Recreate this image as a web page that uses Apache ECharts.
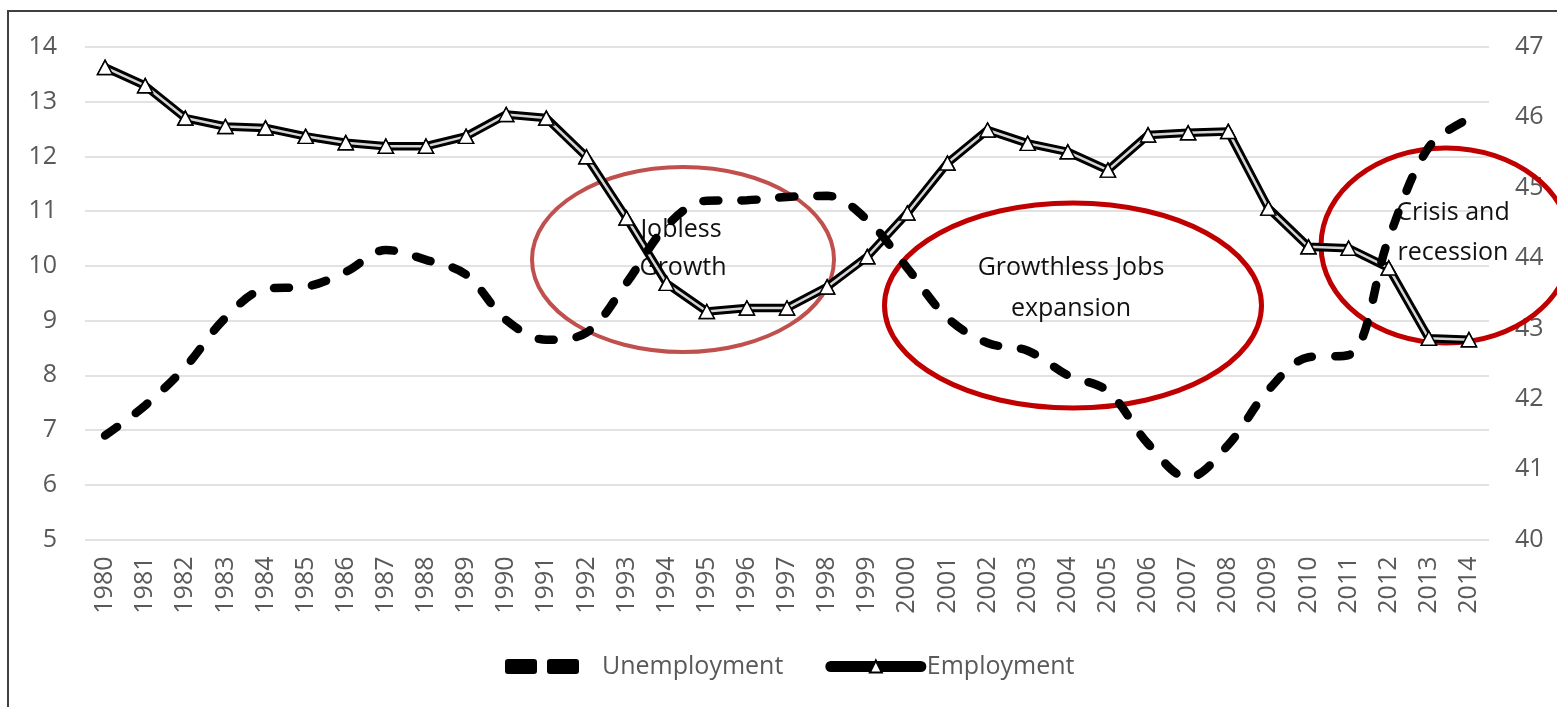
<!DOCTYPE html>
<html>
<head>
<meta charset="utf-8">
<script src="https://cdn.jsdelivr.net/npm/echarts@6/dist/echarts.min.js"></script>
<style>
html,body{margin:0;padding:0;background:#fff;}
#chart{width:1557px;height:707px;}
</style>
</head>
<body>
<div id="chart"></div>
<script>
const years = ['1980','1981','1982','1983','1984','1985','1986','1987','1988','1989',
  '1990','1991','1992','1993','1994','1995','1996','1997','1998','1999',
  '2000','2001','2002','2003','2004','2005','2006','2007','2008','2009',
  '2010','2011','2012','2013','2014'];
const unemployment = [6.9, 7.45, 8.15, 9.05, 9.58, 9.62, 9.89, 10.29, 10.11, 9.84,
  9.01, 8.65, 8.78, 9.69, 10.73, 11.19, 11.2, 11.26, 11.28, 10.84,
  9.96, 9.05, 8.59, 8.45, 8.0, 7.71, 6.75, 6.13, 6.73, 7.73,
  8.33, 8.37, 10.5, 12.17, 12.69];
const employment = [46.71, 46.45, 45.99, 45.87, 45.85, 45.73, 45.64, 45.59, 45.59, 45.73,
  46.04, 45.99, 45.44, 44.57, 43.64, 43.24, 43.29, 43.29, 43.59, 44.02,
  44.64, 45.35, 45.82, 45.63, 45.51, 45.25, 45.75, 45.78, 45.80, 44.71,
  44.16, 44.14, 43.86, 42.86, 42.84];
const leftTicks = {min: 5, max: 14, interval: 1};
const rightTicks = {min: 40, max: 47, interval: 1};

const FONT = '"Open Sans", sans-serif';
const GREY = '#595959';
const DASH_ICON = 'path://M0,3 Q0,0 3,0 L29,0 Q32,0 32,3 L32,12 Q32,15 29,15 L3,15 Q0,15 0,12 Z ' +
  'M42,3 Q42,0 45,0 L71,0 Q74,0 74,3 L74,12 Q74,15 71,15 L45,15 Q42,15 42,12 Z';

const chart = echarts.init(document.getElementById('chart'), null, {renderer: 'canvas'});
const option = {
  backgroundColor: '#ffffff',
  animation: false,
  textStyle: {fontFamily: FONT},
  grid: {left: 85, right: 68, top: 47, bottom: 167.5, containLabel: false},
  legend: {
    left: 505, top: 654, padding: 0,
    itemWidth: 90, itemHeight: 15, itemGap: 42,
    textStyle: {fontSize: 25, color: GREY, fontFamily: FONT},
    data: [
      {name: 'Unemployment', icon: DASH_ICON, itemStyle: {color: '#000'},
       textStyle: {padding: [0, 0, 0, 10]}},
      {name: 'Employment', textStyle: {padding: [0, 0, 0, 1]},
       lineStyle: {width: 11, color: '#000', cap: 'round'}}
    ]
  },
  xAxis: {
    type: 'category', data: years, boundaryGap: true,
    axisLine: {show: false}, axisTick: {show: false},
    axisLabel: {rotate: 90, fontSize: 25, color: GREY, margin: 17, fontFamily: FONT, interval: 0}
  },
  yAxis: [
    {type: 'value', position: 'left', min: leftTicks.min, max: leftTicks.max, interval: leftTicks.interval,
     axisLine: {show: false}, axisTick: {show: false},
     axisLabel: {fontSize: 25, color: GREY, margin: 28, fontFamily: FONT},
     splitLine: {lineStyle: {color: '#d9d9d9', width: 1.5}}},
    {type: 'value', position: 'right', min: rightTicks.min, max: rightTicks.max, interval: rightTicks.interval,
     axisLine: {show: false}, axisTick: {show: false},
     axisLabel: {fontSize: 25, color: GREY, margin: 26, fontFamily: FONT},
     splitLine: {show: false}}
  ],
  series: [
    {name: 'Unemployment', type: 'line', yAxisIndex: 0, data: unemployment, z: 6,
     smooth: 0.35, symbol: 'none',
     lineStyle: {color: '#000', width: 8.5, type: [15, 23], cap: 'round'},
     itemStyle: {color: '#000'}},
    {name: 'Employment', type: 'line', yAxisIndex: 1, data: employment, z: 2,
     symbol: 'triangle', symbolSize: [15, 14], showSymbol: true,
     lineStyle: {color: '#000', width: 8.5},
     itemStyle: {color: '#fff', borderColor: '#000', borderWidth: 1.5}},
    {name: 'Employment', type: 'line', yAxisIndex: 1, data: employment, z: 3,
     symbol: 'none',
     lineStyle: {color: '#d6d6d6', width: 2.5},
     itemStyle: {color: '#d6d6d6'}},
    {name: 'Employment', type: 'line', yAxisIndex: 1, data: employment, z: 4,
     symbol: 'triangle', symbolSize: [15, 14], showSymbol: true,
     lineStyle: {width: 0, opacity: 0},
     itemStyle: {color: '#fff', borderColor: '#000', borderWidth: 1.5}}
  ],
  graphic: {
    elements: [
      {type: 'rect', z: 0, silent: true, shape: {x: 8, y: 11, width: 1700, height: 900},
       style: {fill: 'none', stroke: '#404040', lineWidth: 2}},
      {type: 'ellipse', z: 1, silent: true, shape: {cx: 683, cy: 259.5, rx: 151, ry: 92.5},
       style: {fill: 'none', stroke: '#c0504d', lineWidth: 4}},
      {type: 'ellipse', z: 1, silent: true, shape: {cx: 1073, cy: 305.5, rx: 188.5, ry: 102.5},
       style: {fill: 'none', stroke: '#c00000', lineWidth: 5}},
      {type: 'ellipse', z: 1, silent: true, shape: {cx: 1446, cy: 245.5, rx: 125, ry: 97.5},
       style: {fill: 'none', stroke: '#c00000', lineWidth: 5}},
      {type: 'text', z: 1, silent: true, style: {text: 'Jobless', x: 681, y: 230, textAlign: 'center', textVerticalAlign: 'middle', fill: '#111', font: '25px ' + FONT}},
      {type: 'text', z: 1, silent: true, style: {text: 'Growth', x: 683, y: 268, textAlign: 'center', textVerticalAlign: 'middle', fill: '#111', font: '25px ' + FONT}},
      {type: 'text', z: 1, silent: true, style: {text: 'Growthless Jobs', x: 1071, y: 268, textAlign: 'center', textVerticalAlign: 'middle', fill: '#111', font: '25px ' + FONT}},
      {type: 'text', z: 1, silent: true, style: {text: 'expansion', x: 1071, y: 309, textAlign: 'center', textVerticalAlign: 'middle', fill: '#111', font: '25px ' + FONT}},
      {type: 'text', z: 1, silent: true, style: {text: 'Crisis and', x: 1453, y: 213, textAlign: 'center', textVerticalAlign: 'middle', fill: '#111', font: '25px ' + FONT}},
      {type: 'text', z: 1, silent: true, style: {text: 'recession', x: 1453, y: 253, textAlign: 'center', textVerticalAlign: 'middle', fill: '#111', font: '25px ' + FONT}}
    ]
  }
};
chart.setOption(option);
</script>
</body>
</html>
